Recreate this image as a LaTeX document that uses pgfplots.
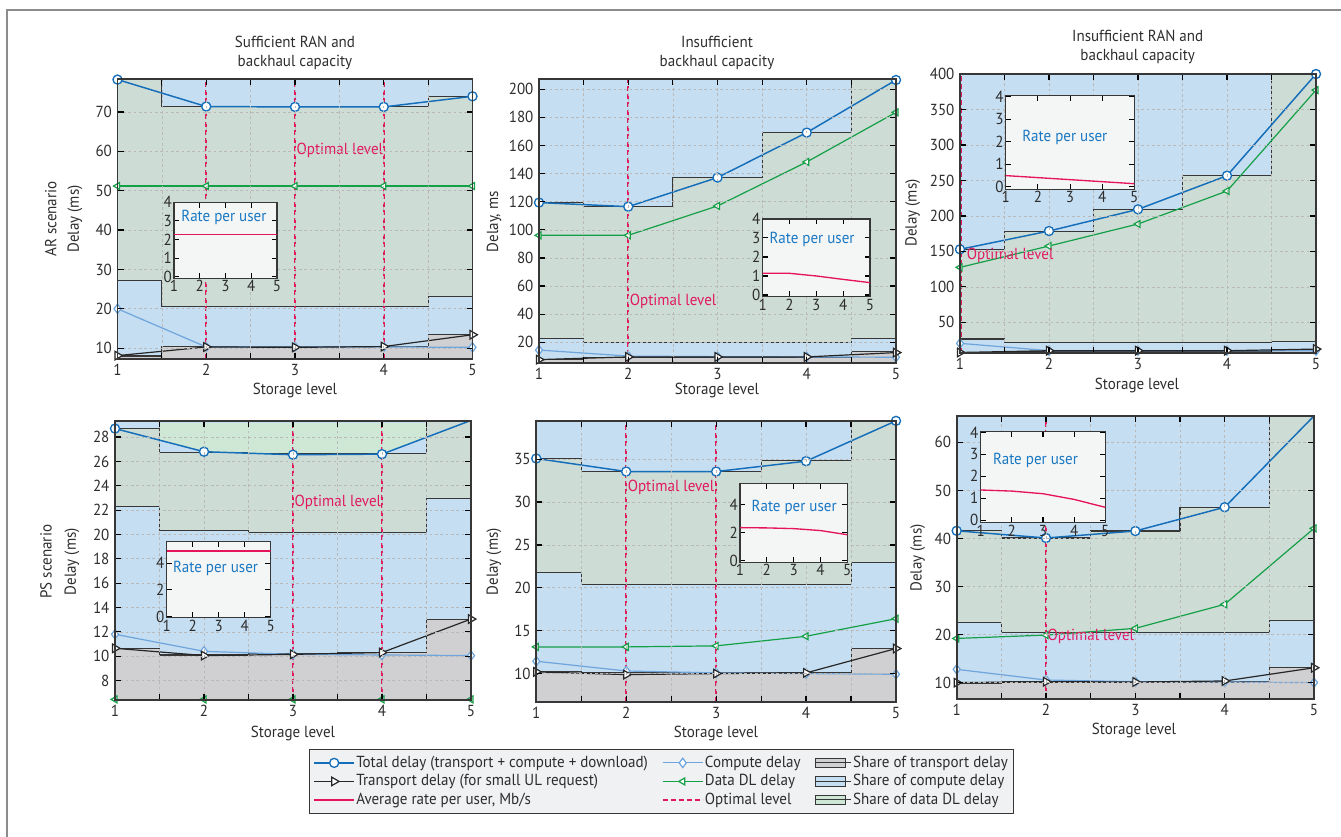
\documentclass[border=0pt]{standalone}
\usepackage{fontspec}
\setmainfont{PT Sans}[FakeStretch=0.94]
\usepackage{pgfplots}
\pgfplotsset{compat=1.18}
\newcommand{\fs}{\fontsize{12pt}{14pt}\selectfont}
\definecolor{totc}{RGB}{20,110,185}
\definecolor{compc}{RGB}{110,165,220}
\definecolor{dlc}{RGB}{20,160,70}
\definecolor{ratec}{RGB}{230,20,90}
\definecolor{optc}{RGB}{225,25,95}
\definecolor{shareT}{RGB}{208,208,211}
\definecolor{shareC}{RGB}{198,222,241}
\definecolor{shareD}{RGB}{206,220,214}
\definecolor{shareDl}{RGB}{207,231,213}
\definecolor{gridc}{RGB}{185,185,185}
\definecolor{insetbg}{RGB}{244,245,245}
\definecolor{legbg}{RGB}{240,241,243}
\definecolor{framec}{RGB}{140,140,140}
\definecolor{axc}{RGB}{55,55,55}
\definecolor{txtc}{RGB}{45,45,45}
\definecolor{ratetc}{RGB}{25,120,195}
\pgfplotsset{
  mainax/.style={
    scale only axis, axis on top, clip mode=individual,
    xmin=1, xmax=5, xtick={1,2,3,4,5}, minor x tick num=1,
    grid=both,
    major grid style={gridc, dash pattern=on 2pt off 2pt, line width=0.5pt},
    minor grid style={gridc, dash pattern=on 2pt off 2pt, line width=0.5pt},
    tick align=inside, major tick length=4.5pt, minor tick length=4.5pt,
    tick style={black, line width=0.9pt},
    axis line style={axc, line width=1.3pt},
    axis background/.style={fill=shareC},
    /pgf/number format/assume math mode=true,
    tick label style={font=\fs, text=txtc},
  },
  inset/.style={
    scale only axis, xmin=1, xmax=5, xtick={1,2,3,4,5},
    tick align=inside, major tick length=4pt,
    tick style={black, line width=0.8pt},
    axis line style={axc, line width=1.1pt},
    axis background/.style={fill=insetbg},
    /pgf/number format/assume math mode=true,
    tick label style={font=\fs, text=txtc, inner sep=1.5pt},
  },
  stepD/.style={const plot mark mid, fill=shareD, draw=axc, line width=0.8pt},
  stepC/.style={const plot mark mid, fill=shareC, draw=axc, line width=0.8pt},
  stepT/.style={const plot mark mid, fill=shareT, draw=axc, line width=0.8pt},
  opt/.style={optc, line width=1.3pt, dash pattern=on 3.8pt off 2.2pt},
  tot/.style={totc, line width=1.1pt, mark=*, mark size=3.4pt, mark options={fill=white, line width=1pt, solid}},
  comp/.style={compc, line width=0.9pt, mark=diamond*, mark size=3.5pt, mark options={fill=white, solid}},
  trans/.style={black!85, line width=0.9pt, mark=triangle*, mark size=3.7pt, mark options={fill=white, rotate=-90, solid}},
  dl/.style={dlc, line width=0.9pt, mark=triangle*, mark size=3pt, mark options={fill=white, rotate=90, solid}},
  rate/.style={ratec, line width=1pt},
  lineleg/.style={legend image code/.code={\draw[mark repeat=2, mark phase=2, ##1] plot coordinates {(0pt,0pt) (15pt,0pt) (30pt,0pt)};}},
  plainleg/.style={legend image code/.code={\draw[##1] (0pt,0pt) -- (30pt,0pt);}},
  boxleg/.style={legend image code/.code={\draw[##1] (0pt,-3.5pt) rectangle (23pt,3.5pt); \path (0pt,0pt) -- (27pt,0pt);}},
}
\begin{document}
\fs
\begin{tikzpicture}
\path[use as bounding box] (0pt,0pt) rectangle (1005.75pt,627pt);
\draw[framec, line width=1.1pt] (5.25pt,-5pt) -- (5.25pt,619.5pt) -- (1012pt,619.5pt);

% ---------------- Panel 1 ----------------
\begin{axis}[mainax, at={(88.125pt,357.75pt)}, anchor=south west, width=266.25pt, height=210pt,
  ymin=7.24, ymax=78.4, ytick={10,20,30,40,50,60,70}]
\addplot[stepD] coordinates {(1,78.4) (2,71.36) (3,71.36) (4,71.36) (5,74.0)} \closedcycle;
\addplot[stepC] coordinates {(1,27.2) (2,20.7) (3,20.7) (4,20.7) (5,23.1)} \closedcycle;
\addplot[stepT] coordinates {(1,8.0) (2,10.4) (3,10.4) (4,10.4) (5,13.4)} \closedcycle;
\addplot[opt] coordinates {(2,7.24) (2,78.4)};
\addplot[opt] coordinates {(3,7.24) (3,78.4)};
\addplot[opt] coordinates {(4,7.24) (4,78.4)};
\addplot[dl] coordinates {(1,51.2) (2,51.2) (3,51.2) (4,51.2) (5,51.2)};
\addplot[comp] coordinates {(1,20.0) (2,10.3) (3,10.3) (4,10.3) (5,10.2)};
\addplot[trans] coordinates {(1,8.1) (2,10.3) (3,10.2) (4,10.4) (5,13.4)};
\addplot[tot] coordinates {(1,78.25) (2,71.4) (3,71.3) (4,71.3) (5,74.0)};
\node[anchor=west, text=optc, inner sep=1pt] at (axis cs:3,60.2) {Optimal level};
\end{axis}
\begin{axis}[inset, at={(130.5pt,418.275pt)}, anchor=south west, width=77.25pt, height=57pt,
  ymin=-0.09, ymax=4, ytick={0,1,2,3,4}]
\addplot[rate] coordinates {(1,2.28) (2,2.28) (3,2.28) (4,2.28) (5,2.28)};
\node[text=ratetc] at (rel axis cs:0.485,0.8) {Rate per user};
\end{axis}

% ---------------- Panel 2 ----------------
\begin{axis}[mainax, at={(404.25pt,354.975pt)}, anchor=south west, width=267.75pt, height=212.55pt,
  ymin=5.5, ymax=207.1, ytick={20,40,...,200}]
\addplot[stepD] coordinates {(1,119.4) (2,116.5) (3,137.2) (4,169.2) (5,207.1)} \closedcycle;
\addplot[stepC] coordinates {(1,22.8) (2,20) (3,20) (4,20) (5,22.8)} \closedcycle;
\addplot[stepT] coordinates {(1,7.7) (2,9.3) (3,9.3) (4,9.3) (5,13.4)} \closedcycle;
\addplot[opt] coordinates {(2,5.5) (2,207.1)};
\addplot[dl] coordinates {(1,96.1) (2,96.1) (3,117.0) (4,148.3) (5,183.6)};
\addplot[comp] coordinates {(1,14.5) (2,10.2) (3,9.8) (4,9.6) (5,9.4)};
\addplot[trans] coordinates {(1,7.7) (2,9.6) (3,9.6) (4,9.6) (5,12.7)};
\addplot[tot] coordinates {(1,119.4) (2,116.5) (3,137.2) (4,169.2) (5,206.6)};
\node[anchor=west, text=optc, inner sep=1pt] at (axis cs:2,49.4) {Optimal level};
\end{axis}
\begin{axis}[inset, at={(572.0pt,404.475pt)}, anchor=south west, width=80.5pt, height=58.3pt,
  ymin=-0.09, ymax=4, ytick={0,1,2,3,4}]
\addplot[rate] coordinates {(1,1.14) (2,1.14) (3,1.0) (4,0.82) (5,0.65)};
\node[text=ratetc] at (rel axis cs:0.46,0.74) {Rate per user};
\end{axis}

% ---------------- Panel 3 ----------------
\begin{axis}[mainax, at={(720pt,362.475pt)}, anchor=south west, width=267pt, height=209pt,
  ymin=7.2, ymax=400, ytick={50,100,...,400}]
\addplot[stepD] coordinates {(1,153) (2,177.8) (3,209.7) (4,256.7) (5,400)} \closedcycle;
\addplot[stepC] coordinates {(1,26.5) (2,21) (3,21) (4,21) (5,22.8)} \closedcycle;
\addplot[stepT] coordinates {(1,8) (2,9.5) (3,9.5) (4,9.5) (5,11)} \closedcycle;
\addplot[opt] coordinates {(1.012,7.2) (1.012,400)};
\addplot[dl] coordinates {(1,127.5) (2,157.6) (3,188.6) (4,235.1) (5,377.4)};
\addplot[comp] coordinates {(1,20.4) (2,10) (3,10) (4,10) (5,10)};
\addplot[trans] coordinates {(1,7.5) (2,10) (3,10) (4,10) (5,12.3)};
\addplot[tot] coordinates {(1,152.9) (2,178.7) (3,209.3) (4,256.7) (5,400)};
\node[anchor=west, text=optc, inner sep=1pt] at (axis cs:1.06,143.7) {Optimal level};
\end{axis}
\begin{axis}[inset, at={(754.3pt,485.0pt)}, anchor=south west, width=96.45pt, height=70.2pt,
  ymin=-0.12, ymax=4.04, ytick={0,1,2,3,4}]
\addplot[rate] coordinates {(1,0.49) (2,0.40) (3,0.31) (4,0.22) (5,0.13)};
\node[text=ratetc] at (rel axis cs:0.46,0.55) {Rate per user};
\end{axis}

% ---------------- Panel 4 ----------------
\begin{axis}[mainax, at={(86.25pt,102pt)}, anchor=south west, width=267pt, height=209.5pt,
  ymin=6.4, ymax=29.35, ytick={8,10,...,28}]
\addplot[fill=shareDl, draw=none] coordinates {(1.5,27.75) (2,26.8) (3,26.55) (4,26.6) (4.5,27.99) (4.5,29.15) (1.5,29.15)} -- cycle;
\addplot[stepD] coordinates {(1,28.7) (2,26.77) (3,26.63) (4,26.63) (5,29.35)} \closedcycle;
\addplot[stepC] coordinates {(1,22.26) (2,20.35) (3,20.2) (4,20.2) (5,22.95)} \closedcycle;
\addplot[stepT] coordinates {(1,10.65) (2,10.1) (3,10.2) (4,10.3) (5,13.05)} \closedcycle;
\addplot[opt] coordinates {(3,6.4) (3,29.35)};
\addplot[opt] coordinates {(4,6.4) (4,29.35)};
\addplot[dl] coordinates {(1,6.45) (2,6.45) (3,6.45) (4,6.45) (5,6.45)};
\addplot[comp] coordinates {(1,11.8) (2,10.4) (3,10.15) (4,10.1) (5,10.05)};
\addplot[trans] coordinates {(1,10.65) (2,10.05) (3,10.15) (4,10.3) (5,13.05)};
\addplot[tot] coordinates {(1,28.7) (2,26.8) (3,26.55) (4,26.6) (5,29.37)};
\node[anchor=west, text=optc, inner sep=1pt] at (axis cs:3,22.67) {Optimal level};
\end{axis}
\begin{axis}[inset, at={(125.0pt,163.7pt)}, anchor=south west, width=78pt, height=57pt,
  ymin=-0.1, ymax=5.6, ytick={0,2,4}]
\addplot[rate] coordinates {(1,4.9) (2,4.9) (3,4.9) (4,4.9) (5,4.9)};
\node[text=ratetc] at (rel axis cs:0.47,0.65) {Rate per user};
\end{axis}

% ---------------- Panel 5 ----------------
\begin{axis}[mainax, at={(402.2pt,100.6pt)}, anchor=south west, width=269.8pt, height=210.75pt,
  ymin=6.7, ymax=39.47, ytick={10,15,...,35},
  legend columns=3, legend cell align=left,
  legend style={at={(-0.632,-0.168)}, anchor=north west, fill=legbg, draw=axc, line width=0.8pt,
    font=\fs, text=txtc, inner sep=3pt,
    nodes={inner xsep=1pt, inner ysep=1.5pt, text height=8.7pt, text depth=2.2pt},
    /tikz/every even column/.append style={column sep=9.5pt}}]
\addplot[stepD, forget plot] coordinates {(1,35.08) (2,33.56) (3,33.56) (4,34.9) (5,39.47)} \closedcycle;
\addplot[stepC, forget plot] coordinates {(1,21.78) (2,20.38) (3,20.38) (4,20.38) (5,22.95)} \closedcycle;
\addplot[stepT, forget plot] coordinates {(1,10.2) (2,10.08) (3,10.08) (4,10.08) (5,12.92)} \closedcycle;
\addplot[opt, forget plot] coordinates {(2,6.7) (2,39.47)};
\addplot[opt, forget plot] coordinates {(3,6.7) (3,39.47)};
\addplot[dl, forget plot] coordinates {(1,13.11) (2,13.11) (3,13.23) (4,14.35) (5,16.4)};
\addplot[comp, forget plot] coordinates {(1,11.44) (2,10.3) (3,10.08) (4,10.0) (5,9.92)};
\addplot[trans, forget plot] coordinates {(1,10.2) (2,9.88) (3,10.0) (4,10.08) (5,12.92)};
\addplot[tot, forget plot] coordinates {(1,35.08) (2,33.56) (3,33.56) (4,34.77) (5,39.47)};
\node[anchor=west, text=optc, inner sep=1pt] at (axis cs:2,31.7) {Optimal level};
\addlegendimage{tot, lineleg}
\addlegendentry{Total delay (transport + compute + download)}
\addlegendimage{comp, lineleg}
\addlegendentry{Compute delay}
\addlegendimage{fill=shareT, draw=axc, line width=0.8pt, boxleg}
\addlegendentry{Share of transport delay}
\addlegendimage{trans, lineleg}
\addlegendentry{Transport delay (for small UL request)}
\addlegendimage{dl, lineleg}
\addlegendentry{Data DL delay}
\addlegendimage{fill=shareC, draw=axc, line width=0.8pt, boxleg}
\addlegendentry{Share of compute delay}
\addlegendimage{rate, plainleg}
\addlegendentry{Average rate per user, Mb/s}
\addlegendimage{opt, plainleg}
\addlegendentry{Optimal level}
\addlegendimage{fill=shareDl, draw=axc, line width=0.8pt, boxleg}
\addlegendentry{Share of data DL delay}
\end{axis}
\begin{axis}[inset, at={(555pt,205.3pt)}, anchor=south west, width=80.5pt, height=59.25pt,
  ymin=-0.12, ymax=5.56, ytick={0,2,4}]
\addplot[rate] coordinates {(1,2.37) (2,2.35) (3,2.3) (4,2.16) (5,1.86)};
\node[text=ratetc] at (rel axis cs:0.505,0.70) {Rate per user};
\end{axis}

% ---------------- Panel 6 ----------------
\begin{axis}[mainax, at={(717.5pt,102.75pt)}, anchor=south west, width=268pt, height=212.5pt,
  ymin=6.6, ymax=65.55, ytick={10,20,...,60}]
\addplot[stepD] coordinates {(1,41.6) (2,40.1) (3,41.55) (4,46.5) (5,65.55)} \closedcycle;
\addplot[stepC] coordinates {(1,22.5) (2,20.5) (3,20.5) (4,20.5) (5,23.0)} \closedcycle;
\addplot[stepT] coordinates {(1,9.86) (2,10.14) (3,10.14) (4,10.14) (5,13.1)} \closedcycle;
\addplot[opt] coordinates {(2,6.6) (2,65.55)};
\addplot[dl] coordinates {(1,19.2) (2,19.9) (3,21.3) (4,26.3) (5,42.1)};
\addplot[comp] coordinates {(1,12.77) (2,10.55) (3,10.2) (4,10.14) (5,10.0)};
\addplot[trans] coordinates {(1,10.0) (2,10.2) (3,10.14) (4,10.35) (5,13.1)};
\addplot[tot, mark indices={1,2,3,4}] coordinates {(1,41.6) (2,40.1) (3,41.55) (4,46.5) (5,65.5)};
\node[anchor=west, text=optc, inner sep=1pt] at (axis cs:2,19.7) {Optimal level};
\end{axis}
\begin{axis}[inset, at={(735.5pt,235.0pt)}, anchor=south west, width=93.45pt, height=68.25pt,
  ymin=-0.12, ymax=4.03, ytick={0,1,2,3,4}]
\addplot[rate] coordinates {(1,1.37) (2,1.32) (3,1.2) (4,0.94) (5,0.58)};
\node[text=ratetc] at (rel axis cs:0.44,0.68) {Rate per user};
\end{axis}

% ---------------- Text ----------------
\begin{scope}[x=0.75pt, y=-0.75pt, shift={(0pt,627pt)}, every node/.style={font=\fs, text=txtc}]
\node[align=center] at (295,53) {Sufficient RAN and\\backhaul capacity};
\node[align=center] at (717,53) {Insufficient\\backhaul capacity};
\node[align=center] at (1137.7,47) {Insufficient RAN and\\backhaul capacity};
\node[rotate=90] at (50.7,219) {AR scenario};
\node[rotate=90] at (75,219) {Delay (ms)};
\node[rotate=90] at (494,221.7) {Delay, ms};
\node[rotate=90] at (912.7,213) {Delay (ms)};
\node[rotate=90] at (46,561.7) {PS scenario};
\node[rotate=90] at (72,561.7) {Delay (ms)};
\node[rotate=90] at (494,561.7) {Delay (ms)};
\node[rotate=90] at (917.7,558) {Delay (ms)};
\node at (295,391) {Storage level};
\node at (717,391) {Storage level};
\node at (1137,386) {Storage level};
\node at (293,733) {Storage level};
\node at (716,733) {Storage level};
\node at (1134,730) {Storage level};
\end{scope}
\end{tikzpicture}
\end{document}
